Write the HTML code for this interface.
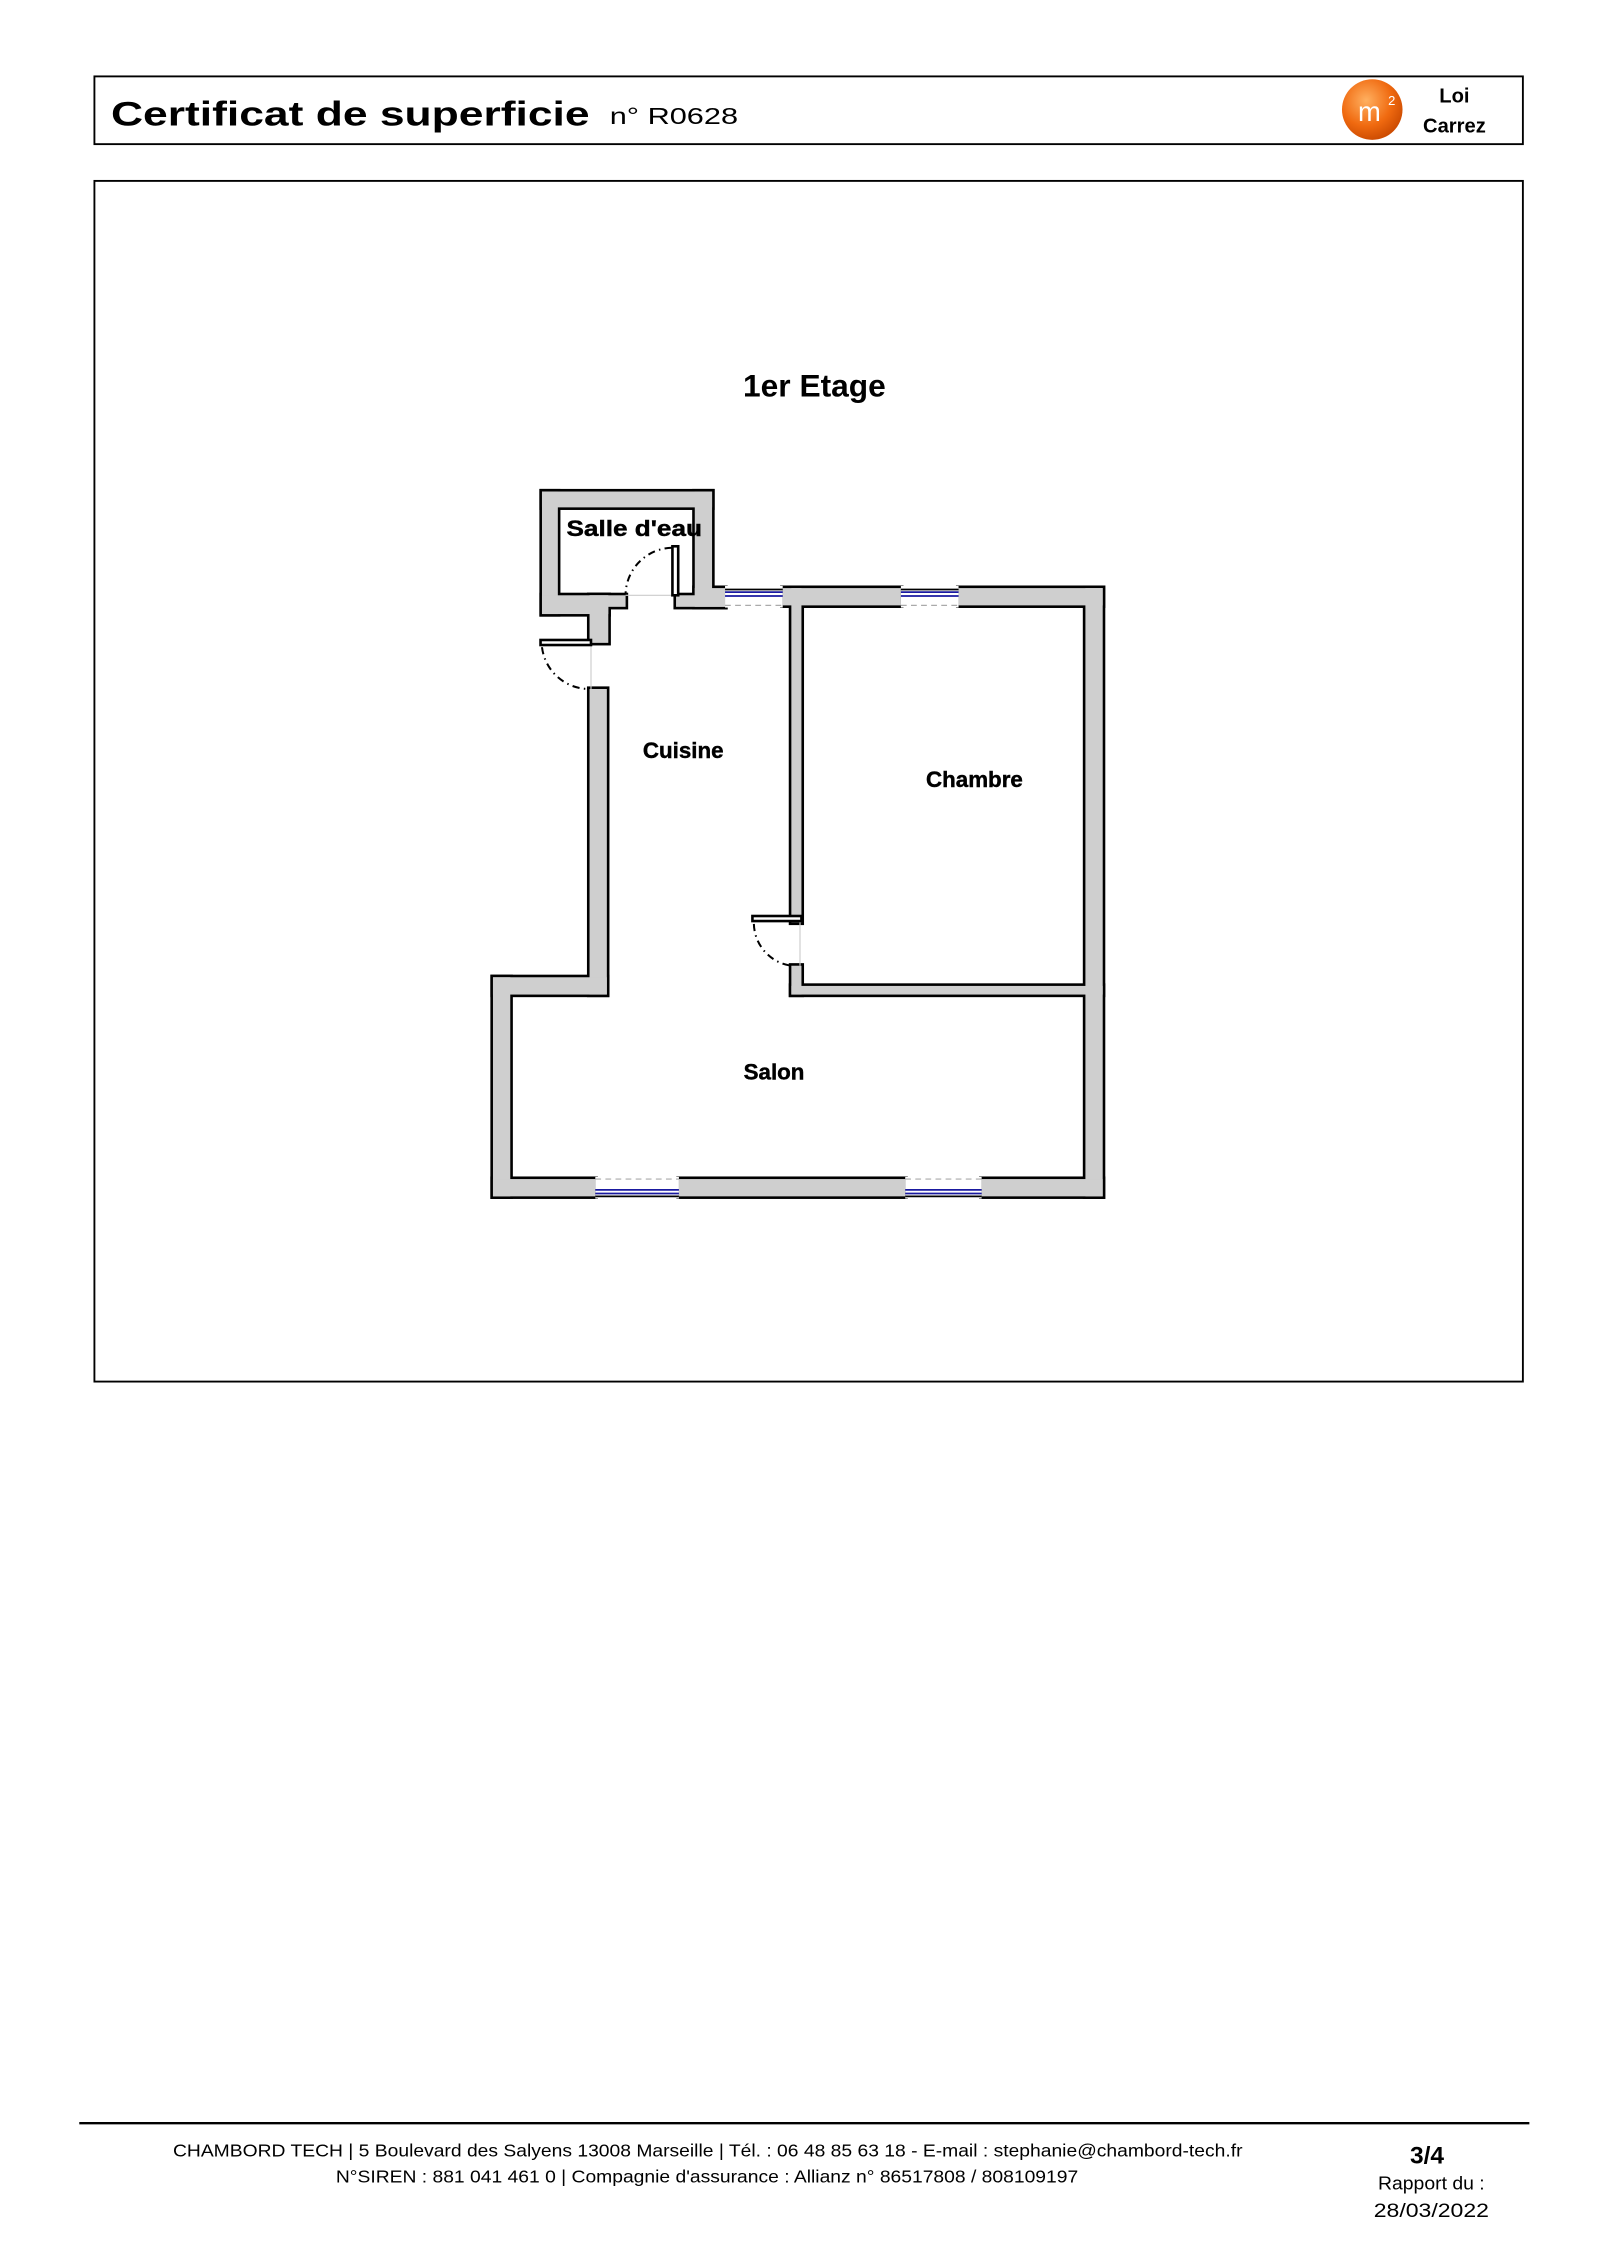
<!DOCTYPE html>
<html><head><meta charset="utf-8"><style>
html,body{margin:0;padding:0;background:#fff;}
svg{display:block;}
text{font-family:"Liberation Sans",sans-serif;}
</style></head><body>
<svg width="1600" height="2264" viewBox="0 0 1110 1570.7" preserveAspectRatio="none" xmlns="http://www.w3.org/2000/svg">
<defs>
<radialGradient id="og" cx="0.4" cy="0.35" r="0.7">
<stop offset="0" stop-color="#ffb060"/><stop offset="0.6" stop-color="#f06a10"/><stop offset="1" stop-color="#c84800"/>
</radialGradient>
<g id="walls">
<rect x="376" y="341" width="118" height="11"/>
<rect x="376" y="341" width="11" height="85"/>
<rect x="482" y="341" width="12" height="79"/>
<rect x="376" y="413" width="46" height="13"/>
<rect x="409" y="413" width="25" height="8"/>
<rect x="409" y="413" width="13" height="33"/>
<rect x="469" y="413" width="34" height="8"/>
<rect x="482" y="408" width="21" height="13"/>
<rect x="543" y="408" width="82" height="12"/>
<rect x="665" y="408" width="100" height="12"/>
<rect x="753" y="408" width="12" height="422"/>
<rect x="549" y="408" width="7" height="232"/>
<rect x="549" y="670" width="7" height="20"/>
<rect x="549" y="684" width="216" height="6"/>
<rect x="409" y="478" width="12" height="212"/>
<rect x="342" y="678" width="79" height="12"/>
<rect x="342" y="678" width="12" height="152"/>
<rect x="342" y="818" width="71" height="12"/>
<rect x="471" y="818" width="157" height="12"/>
<rect x="681" y="818" width="84" height="12"/>
</g>
</defs>
<!-- header -->
<rect x="65.5" y="53" width="991" height="47" fill="none" stroke="#000" stroke-width="1.3"/>
<text x="77" y="87" font-size="24" font-weight="bold" textLength="332" lengthAdjust="spacingAndGlyphs">Certificat de superficie</text>
<text x="423" y="86" font-size="16" textLength="89" lengthAdjust="spacingAndGlyphs">n° R0628</text>
<circle cx="952" cy="76" r="21" fill="url(#og)"/>
<text x="950" y="84" font-size="19" fill="#fff" text-anchor="middle">m</text>
<text x="963" y="73" font-size="9" fill="#fff">2</text>
<text x="1009" y="71" font-size="14" font-weight="bold" text-anchor="middle">Loi</text>
<text x="1009" y="92" font-size="14" font-weight="bold" text-anchor="middle">Carrez</text>
<!-- drawing frame -->
<rect x="65.5" y="125.5" width="991" height="833" fill="none" stroke="#000" stroke-width="1.3"/>
<text x="565" y="275" font-size="22" font-weight="bold" text-anchor="middle">1er Etage</text>

<use href="#walls" fill="#000" stroke="#000" stroke-width="3.6"/>
<use href="#walls" fill="#cfcfcf"/>
<!-- windows -->
<g>
<rect x="503" y="406.5" width="40" height="15" fill="#fff"/>
<line x1="503" y1="409" x2="543" y2="409" stroke="#000" stroke-width="1.2"/>
<line x1="503" y1="410.8" x2="543" y2="410.8" stroke="#1a1aa0" stroke-width="1.2"/>
<line x1="503" y1="413.5" x2="543" y2="413.5" stroke="#1a1aa0" stroke-width="1.2"/>
<line x1="503" y1="420" x2="543" y2="420" stroke="#aaa" stroke-width="0.8" stroke-dasharray="4,3"/>
<rect x="625" y="406.5" width="40" height="15" fill="#fff"/>
<line x1="625" y1="409" x2="665" y2="409" stroke="#000" stroke-width="1.2"/>
<line x1="625" y1="410.8" x2="665" y2="410.8" stroke="#1a1aa0" stroke-width="1.2"/>
<line x1="625" y1="413.5" x2="665" y2="413.5" stroke="#1a1aa0" stroke-width="1.2"/>
<line x1="625" y1="420" x2="665" y2="420" stroke="#aaa" stroke-width="0.8" stroke-dasharray="4,3"/>
<rect x="413" y="816.5" width="58" height="15" fill="#fff"/>
<line x1="413" y1="818" x2="471" y2="818" stroke="#aaa" stroke-width="0.8" stroke-dasharray="4,3"/>
<line x1="413" y1="825.5" x2="471" y2="825.5" stroke="#1a1aa0" stroke-width="1.2"/>
<line x1="413" y1="828" x2="471" y2="828" stroke="#1a1aa0" stroke-width="1.2"/>
<line x1="413" y1="830" x2="471" y2="830" stroke="#000" stroke-width="1.2"/>
<rect x="628" y="816.5" width="53" height="15" fill="#fff"/>
<line x1="628" y1="818" x2="681" y2="818" stroke="#aaa" stroke-width="0.8" stroke-dasharray="4,3"/>
<line x1="628" y1="825.5" x2="681" y2="825.5" stroke="#1a1aa0" stroke-width="1.2"/>
<line x1="628" y1="828" x2="681" y2="828" stroke="#1a1aa0" stroke-width="1.2"/>
<line x1="628" y1="830" x2="681" y2="830" stroke="#000" stroke-width="1.2"/>
</g>
<!-- doors -->
<g fill="none">
<line x1="434" y1="413" x2="469" y2="413" stroke="#ccc" stroke-width="0.8"/>
<rect x="466.5" y="379" width="4" height="34" fill="#fff" stroke="#000" stroke-width="1.8"/>
<path d="M466,380 A33,33 0 0 0 434,412" stroke="#000" stroke-width="1.4" stroke-dasharray="5,3,1,3"/>
<line x1="410" y1="446" x2="410" y2="478" stroke="#ccc" stroke-width="0.8"/>
<rect x="375" y="444" width="35" height="3.5" fill="#fff" stroke="#000" stroke-width="1.8"/>
<path d="M376,449 A33,33 0 0 0 409,478" stroke="#000" stroke-width="1.4" stroke-dasharray="5,3,1,3"/>
<line x1="555" y1="640" x2="555" y2="670" stroke="#ccc" stroke-width="0.8"/>
<rect x="522" y="635.5" width="34" height="3.5" fill="#fff" stroke="#000" stroke-width="1.8"/>
<path d="M523,641 A30,30 0 0 0 549,670" stroke="#000" stroke-width="1.4" stroke-dasharray="5,3,1,3"/>
</g>
<!-- room labels -->
<g font-weight="bold" font-size="15.5" stroke="#000" stroke-width="0.3">
<text x="440" y="372" text-anchor="middle" textLength="94" lengthAdjust="spacingAndGlyphs">Salle d'eau</text>
<text x="474" y="526" text-anchor="middle">Cuisine</text>
<text x="676" y="546" text-anchor="middle">Chambre</text>
<text x="537" y="749" text-anchor="middle">Salon</text>
</g>
<!-- footer -->
<line x1="55" y1="1473" x2="1061" y2="1473" stroke="#000" stroke-width="1.6"/>
<text x="120" y="1496" font-size="12" textLength="742" lengthAdjust="spacingAndGlyphs">CHAMBORD TECH | 5 Boulevard des Salyens 13008 Marseille | Tél. : 06 48 85 63 18 - E-mail : stephanie@chambord-tech.fr</text>
<text x="233" y="1514" font-size="12" textLength="515" lengthAdjust="spacingAndGlyphs">N°SIREN : 881 041 461 0 | Compagnie d'assurance : Allianz n° 86517808 / 808109197</text>
<text x="990" y="1501" font-size="17" font-weight="bold" text-anchor="middle">3/4</text>
<text x="993" y="1519" font-size="12.5" text-anchor="middle" textLength="74" lengthAdjust="spacingAndGlyphs">Rapport du :</text>
<text x="993" y="1538" font-size="13.5" text-anchor="middle" textLength="80" lengthAdjust="spacingAndGlyphs">28/03/2022</text>
</svg>
</body></html>
